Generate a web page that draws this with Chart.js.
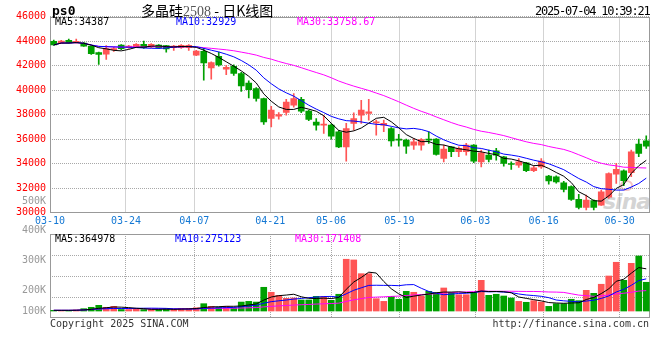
<!DOCTYPE html>
<html><head><meta charset="utf-8">
<script src="https://cdn.jsdelivr.net/npm/chart.js@4.4.1/dist/chart.umd.min.js"></script>
<style>
body{margin:0;background:#fff;}
#wrap{position:relative;width:660px;height:360px;overflow:hidden;font-family:"DejaVu Sans Mono",monospace;}
.t{position:absolute;white-space:nowrap;line-height:1;}
canvas{position:absolute;left:0;}
</style></head><body>
<div id="wrap">
 <div style="position:absolute;left:620px;top:180px;width:9px;height:7px;border:2px solid #f3c4c4;border-radius:50%"></div>
 <div class="t" style="left:603px;top:189px;font:italic bold 22px 'DejaVu Sans',sans-serif;color:#d4d4d4;letter-spacing:-1px">sina</div>
 <canvas id="c1" width="660" height="232" style="top:0"></canvas>
 <canvas id="c2" width="660" height="134" style="top:226px"></canvas>
 <div class="t" style="left:52px;top:4px;font-weight:bold;font-size:13px;color:#000">ps0</div>
 <div class="t" style="left:141px;top:3px;font-size:14px;color:#000"><span style="font-family:'Noto Sans CJK SC'">多晶硅</span><span style="font-family:'Liberation Serif';color:#555">2508</span><span style="font-family:'Noto Sans CJK SC'"> - 日K线图</span></div>
 <div class="t" style="left:535px;top:5px;font-size:12px;letter-spacing:-1.2px;color:#000">2025-07-04 10:39:21</div>
 <div class="t" style="left:55px;top:17px;font-size:10px;color:#000">MA5:34387</div>
 <div class="t" style="left:176px;top:17px;font-size:10px;color:#0000ff">MA10:32929</div>
 <div class="t" style="left:297px;top:17px;font-size:10px;color:#ff00ff">MA30:33758.67</div>
 <div id="vlab"></div>
 <div class="t" style="left:55px;top:234px;font-size:10px;color:#000">MA5:364978</div>
 <div class="t" style="left:175px;top:234px;font-size:10px;color:#0000ff">MA10:275123</div>
 <div class="t" style="left:295px;top:234px;font-size:10px;color:#ff00ff">MA30:171408</div>
 <div class="t" style="left:50px;top:319px;font-size:10px;color:#333">Copyright 2025 SINA.COM</div>
 <div class="t" style="left:0;width:649px;text-align:right;top:319px;font-size:10px;color:#333">http://finance.sina.com.cn</div>
</div>
<script>
const dates = ['03-10','03-11','03-12','03-13','03-14','03-17','03-18','03-19','03-20','03-21','03-24','03-25','03-26','03-27','03-28','03-31','04-01','04-02','04-03','04-07','04-08','04-09','04-10','04-11','04-14','04-15','04-16','04-17','04-18','04-21','04-22','04-23','04-24','04-25','04-28','04-29','04-30','05-06','05-07','05-08','05-09','05-12','05-13','05-14','05-15','05-16','05-19','05-20','05-21','05-22','05-23','05-26','05-27','05-28','05-29','05-30','06-03','06-04','06-05','06-06','06-09','06-10','06-11','06-12','06-13','06-16','06-17','06-18','06-19','06-20','06-23','06-24','06-25','06-26','06-27','06-30','07-01','07-02','07-03','07-04'];
const tickDates = ['03-10','03-24','04-07','04-21','05-06','05-19','06-03','06-16','06-30'];
const yTicks = [30000,32000,34000,36000,38000,40000,42000,44000,46000];
const volLabels = ['500K','400K','300K','200K','100K'];

const open = [43980,43850,44050,43870,43840,43590,43060,42920,43300,43670, 43460,43510,43730,43510,43670,43620,43460,43460,43460,42840, 43160,41800,42755,41700,41940,41350,40580,40125,39310,37680, 37870,38170,38770,39250,38280,37400,37140,37140,36600,35370, 37280,37950,38090,37330,37140,36870,35970,35920,35510,35510, 35970,36000,34430,35370,34970,34970,35510,34150,34700,35050, 34560,33970,33880,34070,33420,33740,32990,32920,32440,32120, 31090,30440,30980,30620,31260,33150,33420,33260,35590,35860];
const high = [44080,44060,44150,44150,43900,43620,43100,43620,43500,43720, 43650,43800,44000,43800,43720,43650,43650,43700,43720,43250, 43400,42300,43100,42020,42050,41450,40745,40200,39350,38680, 38170,39250,39720,39400,38350,37680,37950,37250,36700,37280, 38140,39170,39250,37545,37545,36950,36400,36000,36050,36050, 36600,36050,35510,35400,35370,35650,35550,35100,35100,35240, 34600,34150,34420,34100,33800,34420,33050,33000,32550,32200, 31500,31440,31050,31850,33260,34020,33500,35100,36000,36270];
const low = [43650,43800,43800,43820,43550,42900,42100,42500,43150,43300, 43400,43450,43400,43450,43400,43100,43240,43400,43240,42800, 40800,40880,41950,41265,41200,39900,39360,39100,37200,37000, 37630,37950,38600,38150,37500,36730,36460,36000,35300,34200, 36730,37280,37545,36320,36600,35430,35430,34830,35160,35100, 35650,34700,34150,34560,34560,34700,34070,33740,34150,34290, 33800,33530,33700,33340,33340,33610,32330,32400,31700,31000, 30300,30220,30220,30600,31170,32390,32200,32930,34560,35240];
const close = [43680,43990,43840,43970,43590,42975,42900,43380,43350,43380, 43590,43730,43460,43730,43460,43350,43590,43650,43650,43180, 42210,42240,42050,41860,41350,40340,40040,39310,37400,38360, 38010,39030,39310,38280,37600,37140,37200,36240,35370,36870, 37680,38360,38220,37360,37280,35860,35920,35430,35780,35970, 35920,34750,35180,34970,35240,35510,34210,34880,34340,34700, 34020,33930,34150,33420,33660,34210,32590,32510,31900,31090, 30440,31030,30440,31710,33200,33530,32610,34960,34830,35430];
const volume = [6000,6000,6000,8600,20000,32000,49000,32000,40000,13000, 13000,20000,13000,13000,13000,20000,13000,23000,23000,28000, 63000,40000,32000,40000,28000,77000,83000,77000,204000,161000, 135000,109000,112000,95000,95000,126000,126000,92000,144000,445000, 439000,321000,321000,106000,83000,126000,101000,169000,161000,129000, 169000,157000,198000,161000,140000,140000,157000,264000,135000,144000, 129000,112000,83000,75000,89000,77000,40000,63000,63000,101000, 89000,178000,152000,230000,301000,419000,264000,410000,473000,247000];

const UP = '#ff5555', DOWN = '#00a000', GRID = '#a8a8a8';
const colors = close.map((c, i) => c >= open[i] ? UP : DOWN);

function movingAvg(arr, n) {
  return arr.map((_, i) => {
    const s = Math.max(0, i - n + 1);
    let t = 0;
    for (let j = s; j <= i; j++) t += arr[j];
    return t / (i - s + 1);
  });
}

const vl = document.getElementById('vlab');
volLabels.forEach((s, k) => {
  const d = document.createElement('div');
  d.className = 't';
  d.style.cssText = 'left:0;width:46px;text-align:right;font-size:10px;color:#999;top:' + [196,225,255,285,306][k] + 'px';
  d.textContent = s;
  vl.appendChild(d);
});

Chart.defaults.font.family = "'DejaVu Sans Mono', monospace";
Chart.defaults.font.size = 10;

const frame = {
  id: 'frame',
  beforeDatasetsDraw(chart) {
    const {ctx, chartArea: a} = chart;
    ctx.save();
    ctx.strokeStyle = '#999';
    ctx.lineWidth = 1;
    const l = Math.round(a.left), t = Math.round(a.top), r = Math.round(a.right), b = Math.round(a.bottom);
    ctx.strokeRect(l + 0.5, t + 0.5, r - l - 1, b - t - 1);
    ctx.restore();
  }
};

function lineDs(data, color) {
  return {type: 'line', data, borderColor: color, borderWidth: 1, pointRadius: 0, tension: 0, fill: false, xAxisID: 'x', yAxisID: 'y'};
}

const dateAxis = (showLabels, h) => ({
  type: 'category', position: 'bottom', offset: false,
  grid: {offset: false, color: GRID, drawTicks: false},
  border: {display: false, dash: [1, 1]},
  ticks: {display: showLabels, color: '#1478d4', autoSkip: false, maxRotation: 0, padding: 3},
  afterBuildTicks: s => { s.ticks = s.ticks.filter(t => tickDates.includes(dates[t.value])); },
  afterFit: s => { s.height = h; }
});

new Chart(document.getElementById('c1'), {
  type: 'bar',
  data: {
    labels: dates,
    datasets: [
      lineDs(movingAvg(close, 5), '#000000'),
      lineDs(movingAvg(close, 10), '#0000ff'),
      lineDs(movingAvg(close, 30), '#ff00ff'),
      {data: open.map((o, i) => [o, close[i]]), backgroundColor: colors, barThickness: 6, minBarLength: 1, grouped: false, xAxisID: 'x', yAxisID: 'y'},
      {data: low.map((l, i) => [l, high[i]]), backgroundColor: colors, barThickness: 1, grouped: false, xAxisID: 'x', yAxisID: 'y'}
    ]
  },
  options: {
    responsive: false, animation: false, devicePixelRatio: 1,
    layout: {padding: {top: 16.5, right: 10, left: 0, bottom: 0}},
    plugins: {legend: {display: false}, tooltip: {enabled: false}},
    scales: {
      x: {display: false, offset: true},
      x2: dateAxis(true, 19.3),
      y: {
        min: 30000, max: 46000,
        ticks: {color: '#ff0000', padding: 4, callback: v => String(v)},
        afterBuildTicks: s => { s.ticks = yTicks.map(v => ({value: v})); },
        afterFit: s => { s.width = 50; },
        grid: {color: GRID, drawTicks: false},
        border: {display: false, dash: [1, 1]}
      }
    }
  },
  plugins: [frame]
});

new Chart(document.getElementById('c2'), {
  type: 'bar',
  data: {
    labels: dates,
    datasets: [
      lineDs(movingAvg(volume, 5), '#000000'),
      lineDs(movingAvg(volume, 10), '#0000ff'),
      lineDs(movingAvg(volume, 30), '#ff00ff'),
      {data: volume, backgroundColor: colors, barThickness: 6, grouped: false, xAxisID: 'x', yAxisID: 'y'}
    ]
  },
  options: {
    responsive: false, animation: false, devicePixelRatio: 1,
    layout: {padding: {top: 8, right: 10, left: 0, bottom: 42}},
    plugins: {legend: {display: false}, tooltip: {enabled: false}},
    scales: {
      x: {display: false, offset: true},
      x2: dateAxis(false, 0),
      y: {
        min: -60000, max: 662000,
        ticks: {display: false},
        afterBuildTicks: s => { const r = s.max - s.min; s.ticks = [0.25, 0.5, 0.75].map(q => ({value: s.max - r * q})); },
        afterFit: s => { s.width = 50; },
        grid: {color: GRID, drawTicks: false},
        border: {display: false, dash: [1, 1]}
      }
    }
  },
  plugins: [frame]
});
</script>
</body></html>
